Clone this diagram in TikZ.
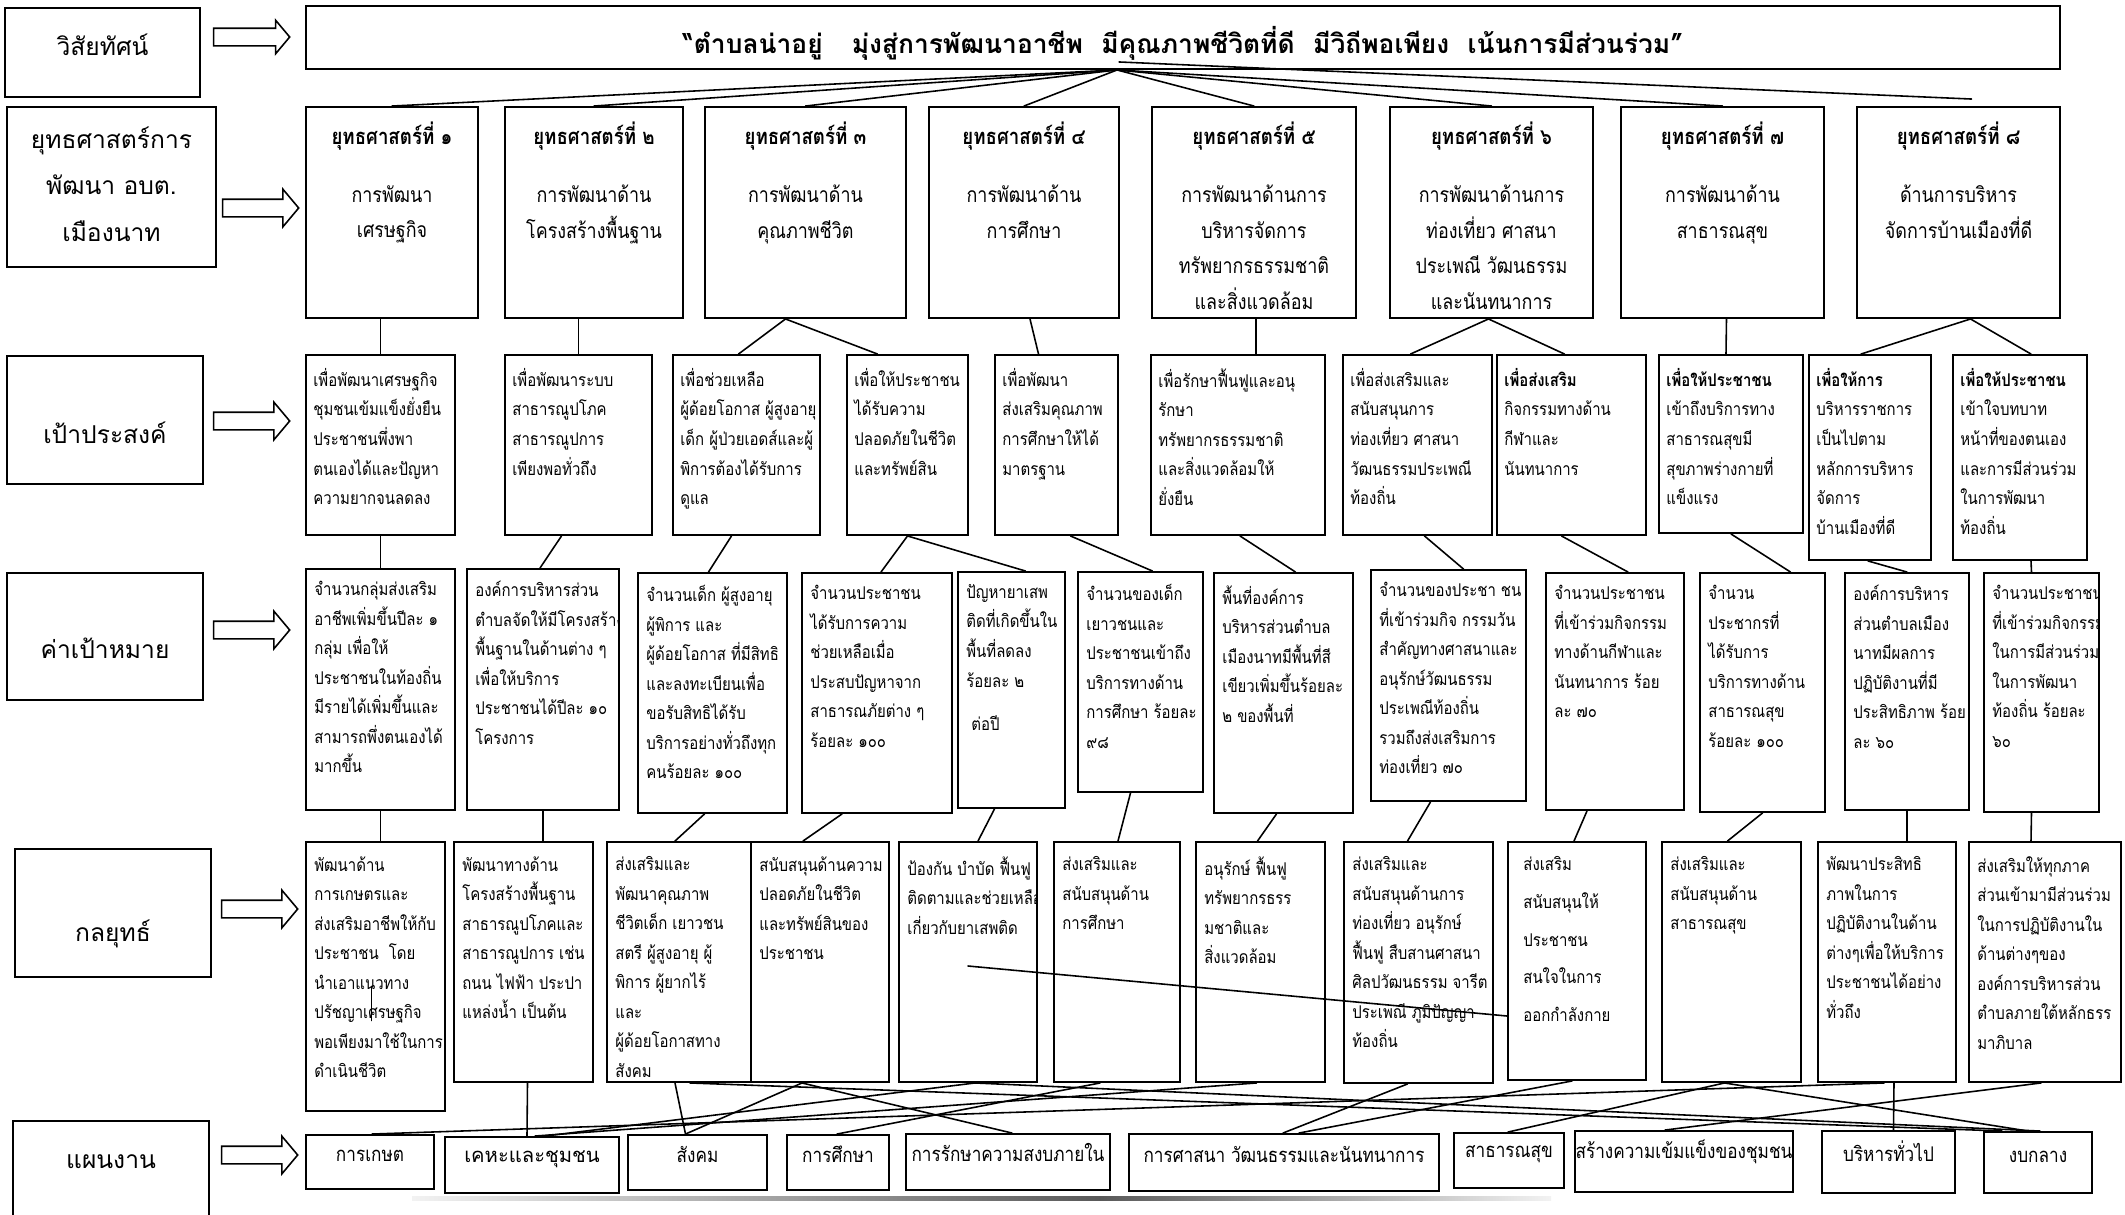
\documentclass[tikz,border=0pt]{standalone}
\usepackage{fontspec}
\setmainfont[Script=Thai]{Loma}
\newfontfamily\thainarrow[Script=Thai,FakeStretch=0.85]{Loma}
\usetikzlibrary{calc,fit,shapes.arrows}
\tikzset{
  box/.style={draw=black, line width=1.1pt, inner sep=0pt},
  link/.style={draw=black, line width=0.9pt, line cap=round},
  celltxt/.style={font=\thainarrow\fontsize{10}{16.8}\selectfont, align=left, inner sep=0pt, anchor=north west},
  stitle/.style={font=\thainarrow\bfseries\fontsize{12.5}{14}\selectfont, inner sep=0pt},
  sbody/.style={font=\thainarrow\fontsize{12}{20.2}\selectfont, align=center, inner sep=0pt, anchor=north},
  sidelab/.style={font=\fontsize{14}{26.5}\selectfont, align=center, inner sep=0pt},
  plan/.style={box, font=\thainarrow\fontsize{11.5}{13}\selectfont},
  bigarrow/.style={single arrow, draw=black, line width=0.9pt, fill=white, minimum height=15.2mm,
    inner sep=1.6mm, single arrow head extend=2mm, single arrow tip angle=100},
}
\begin{document}
\begin{tikzpicture}[x=0.2mm, y=-0.2mm]
\useasboundingbox (0,0) rectangle (2125,1215);

% left column
\foreach \nm/\xa/\ya/\xb/\yb/\dy/\txt in {
  Lvis/5/8/200/97/-8/วิสัยทัศน์,
  Lstr/7/107/216/267/-3/{ยุทธศาสตร์การ\\พัฒนา อบต.\\เมืองนาท},
  Lobj/7/356/203/484/13/เป้าประสงค์,
  Lind/7/573/203/700/12/ค่าเป้าหมาย,
  Ltac/15/849/211/977/21/กลยุทธ์}
{
  \node[box, fit={(\xa,\ya) (\xb,\yb)}] (\nm) {};
  \node[sidelab] at ($(\nm.center)+(0,\dy)$) {\txt};
}
\node[box, fit={(13,1121) (209,1260)}] (Lplan) {};
\node[sidelab] at ($(Lplan.north)+(0,42)$) {แผนงาน};

\node[bigarrow, single arrow head extend=1.6mm] (A0) at (248,37) {};
\node[bigarrow] (A1) at (257,208) {};
\node[bigarrow] (A2) at (248,421) {};
\node[bigarrow] (A3) at (248,630) {};
\node[bigarrow] (A4) at (256,909) {};
\node[bigarrow] (A5) at (256,1155) {};

% vision
\node[box, fit={(306,6) (2060,69)}] (V) {};
\node[font=\bfseries\fontsize{15}{17}\selectfont] (Vt) at ($(V.center)+(0,6)$)
  {“ตำบลน่าอยู่\hspace{1.1em}มุ่งสู่การพัฒนาอาชีพ\hspace{0.7em}มีคุณภาพชีวิตที่ดี\hspace{0.7em}มีวิถีพอเพียง\hspace{0.7em}เน้นการมีส่วนร่วม”};

% strategies
\foreach \nm/\xa/\xb/\num/\txt in {
  S1/306/478/๑/{การพัฒนา\\เศรษฐกิจ},
  S2/505/683/๒/{การพัฒนาด้าน\\โครงสร้างพื้นฐาน},
  S3/705/906/๓/{การพัฒนาด้าน\\คุณภาพชีวิต},
  S4/929/1119/๔/{การพัฒนาด้าน\\การศึกษา},
  S5/1152/1356/๕/{การพัฒนาด้านการ\\บริหารจัดการ\\ทรัพยากรธรรมชาติ\\และสิ่งแวดล้อม},
  S6/1390/1593/๖/{การพัฒนาด้านการ\\ท่องเที่ยว ศาสนา\\ประเพณี วัฒนธรรม\\และนันทนาการ},
  S7/1621/1824/๗/{การพัฒนาด้าน\\สาธารณสุข},
  S8/1857/2060/๘/{ด้านการบริหาร\\จัดการบ้านเมืองที่ดี}}
{
  \node[box, fit={(\xa,107) (\xb,318)}] (\nm) {};
  \node[stitle] at ($(\nm.north)+(0,30)$) {ยุทธศาสตร์ที่ \num};
  \node[sbody] at ($(\nm.north)+(0,79)$) {\txt};
}

% objectives
\foreach \nm/\xa/\xb/\yb/\fw/\txt in {
  O1/306/455/535/\relax/{เพื่อพัฒนาเศรษฐกิจ\\ชุมชนเข้มแข็งยั่งยืน\\ประชาชนพึ่งพา\\ตนเองได้และปัญหา\\ความยากจนลดลง},
  O2/505/652/535/\relax/{เพื่อพัฒนาระบบ\\สาธารณูปโภค\\สาธารณูปการ\\เพียงพอทั่วถึง},
  O3/673/820/535/\relax/{เพื่อช่วยเหลือ\\ผู้ด้อยโอกาส ผู้สูงอายุ\\เด็ก ผู้ป่วยเอดส์และผู้\\พิการต้องได้รับการ\\ดูแล},
  O4/847/968/535/\relax/{เพื่อให้ประชาชน\\ได้รับความ\\ปลอดภัยในชีวิต\\และทรัพย์สิน},
  O5/995/1118/535/\relax/{เพื่อพัฒนา\\ส่งเสริมคุณภาพ\\การศึกษาให้ได้\\มาตรฐาน},
  O6/1151/1325/535/\relax/{เพื่อรักษาฟื้นฟูและอนุ\\รักษา\\ทรัพยากรธรรมชาติ\\และสิ่งแวดล้อมให้\\ยั่งยืน},
  O7/1343/1492/535/\relax/{เพื่อส่งเสริมและ\\สนับสนุนการ\\ท่องเที่ยว ศาสนา\\วัฒนธรรมประเพณี\\ท้องถิ่น},
  O8/1497/1646/535/\bfseries/{เพื่อส่งเสริม\\กิจกรรมทางด้าน\\กีฬาและ\\นันทนาการ},
  O9/1659/1803/533/\bfseries/{เพื่อให้ประชาชน\\เข้าถึงบริการทาง\\สาธารณสุขมี\\สุขภาพร่างกายที่\\แข็งแรง},
  O10/1809/1931/560/\bfseries/{เพื่อให้การ\\บริหารราชการ\\เป็นไปตาม\\หลักการบริหาร\\จัดการ\\บ้านเมืองที่ดี},
  O11/1953/2087/560/\bfseries/{เพื่อให้ประชาชน\\เข้าใจบทบาท\\หน้าที่ของตนเอง\\และการมีส่วนร่วม\\ในการพัฒนา\\ท้องถิ่น}}
{
  \node[box, fit={(\xa,355) (\xb,\yb)}] (\nm) {};
  \begin{scope}
    \clip (\xa,355) rectangle (\xb,\yb);
    \node[celltxt] at ($(\nm.north west)+(8,14)$) {\fw\txt};
  \end{scope}
}

% targets
\foreach \nm/\xa/\ya/\xb/\yb/\txt in {
  I1/306/569/455/810/{จำนวนกลุ่มส่งเสริม\\อาชีพเพิ่มขึ้นปีละ ๑\\กลุ่ม เพื่อให้\\ประชาชนในท้องถิ่น\\มีรายได้เพิ่มขึ้นและ\\สามารถพึ่งตนเองได้\\มากขึ้น},
  I2/467/569/619/810/{องค์การบริหารส่วน\\ตำบลจัดให้มีโครงสร้าง\\พื้นฐานในด้านต่าง ๆ\\เพื่อให้บริการ\\ประชาชนได้ปีละ ๑๐\\โครงการ},
  I3/638/573/787/813/{จำนวนเด็ก ผู้สูงอายุ\\ผู้พิการ และ\\ผู้ด้อยโอกาส ที่มีสิทธิ\\และลงทะเบียนเพื่อ\\ขอรับสิทธิได้รับ\\บริการอย่างทั่วถึงทุก\\คนร้อยละ ๑๐๐},
  I4/802/573/952/813/{จำนวนประชาชน\\ได้รับการความ\\ช่วยเหลือเมื่อ\\ประสบปัญหาจาก\\สาธารณภัยต่าง ๆ\\ร้อยละ ๑๐๐},
  I5/958/572/1065/808/{ปัญหายาเสพ\\ติดที่เกิดขึ้นใน\\พื้นที่ลดลง\\ร้อยละ ๒\\[8pt]\ ต่อปี},
  I6/1078/572/1203/792/{จำนวนของเด็ก\\เยาวชนและ\\ประชาชนเข้าถึง\\บริการทางด้าน\\การศึกษา ร้อยละ\\๙๘},
  I7/1214/573/1353/813/{พื้นที่องค์การ\\บริหารส่วนตำบล\\เมืองนาทมีพื้นที่สี\\เขียวเพิ่มขึ้นร้อยละ\\๒ ของพื้นที่},
  I8/1371/570/1526/801/{จำนวนของประชา ชน\\ที่เข้าร่วมกิจ กรรมวัน\\สำคัญทางศาสนาและ\\อนุรักษ์วัฒนธรรม\\ประเพณีท้องถิ่น\\รวมถึงส่งเสริมการ\\ท่องเที่ยว ๗๐},
  I9/1546/573/1684/810/{จำนวนประชาชน\\ที่เข้าร่วมกิจกรรม\\ทางด้านกีฬาและ\\นันทนาการ ร้อย\\ละ ๗๐},
  I10/1700/573/1825/812/{จำนวน\\ประชากรที่\\ได้รับการ\\บริการทางด้าน\\สาธารณสุข\\ร้อยละ ๑๐๐},
  I11/1845/573/1969/810/{องค์การบริหาร\\ส่วนตำบลเมือง\\นาทมีผลการ\\ปฏิบัติงานที่มี\\ประสิทธิภาพ ร้อย\\ละ ๖๐},
  I12/1984/573/2099/812/{จำนวนประชาชน\\ที่เข้าร่วมกิจกรรม\\ในการมีส่วนร่วม\\ในการพัฒนา\\ท้องถิ่น ร้อยละ\\๖๐}}
{
  \node[box, fit={(\xa,\ya) (\xb,\yb)}] (\nm) {};
  \begin{scope}
    \clip (\xa,\ya) rectangle (\xb,\yb);
    \node[celltxt] at ($(\nm.north west)+(9,13)$) {\txt};
  \end{scope}
}

% tactics
\foreach \nm/\xa/\xb/\yb/\txt in {
  G1/306/445/1111/{พัฒนาด้าน\\การเกษตรและ\\ส่งเสริมอาชีพให้กับ\\ประชาชน\ \ โดย\\นำเอาแนวทาง\\ปรัชญาเศรษฐกิจ\\พอเพียงมาใช้ในการ\\ดำเนินชีวิต},
  G2/454/593/1082/{พัฒนาทางด้าน\\โครงสร้างพื้นฐาน\\สาธารณูปโภคและ\\สาธารณูปการ เช่น\\ถนน ไฟฟ้า ประปา\\แหล่งน้ำ เป็นต้น},
  G3/607/751/1082/{ส่งเสริมและ\\พัฒนาคุณภาพ\\ชีวิตเด็ก เยาวชน\\สตรี ผู้สูงอายุ ผู้\\พิการ ผู้ยากไร้\\และ\\ผู้ด้อยโอกาสทาง\\สังคม},
  G4/751/889/1082/{สนับสนุนด้านความ\\ปลอดภัยในชีวิต\\และทรัพย์สินของ\\ประชาชน},
  G5/899/1037/1082/{ป้องกัน บำบัด ฟื้นฟู\\ติดตามและช่วยเหลือ\\เกี่ยวกับยาเสพติด},
  G6/1054/1180/1082/{ส่งเสริมและ\\สนับสนุนด้าน\\การศึกษา},
  G7/1196/1325/1082/{อนุรักษ์ ฟื้นฟู\\ทรัพยากรธรร\\มชาติและ\\สิ่งแวดล้อม},
  G8/1344/1493/1083/{ส่งเสริมและ\\สนับสนุนด้านการ\\ท่องเที่ยว อนุรักษ์\\ฟื้นฟู สืบสานศาสนา\\ศิลปวัฒนธรรม จารีต\\ประเพณี ภูมิปัญญา\\ท้องถิ่น},
  G10/1662/1801/1082/{ส่งเสริมและ\\สนับสนุนด้าน\\สาธารณสุข},
  G11/1818/1956/1082/{พัฒนาประสิทธิ\\ภาพในการ\\ปฏิบัติงานในด้าน\\ต่างๆเพื่อให้บริการ\\ประชาชนได้อย่าง\\ทั่วถึง},
  G12/1969/2121/1082/{ส่งเสริมให้ทุกภาค\\ส่วนเข้ามามีส่วนร่วม\\ในการปฏิบัติงานใน\\ด้านต่างๆของ\\องค์การบริหารส่วน\\ตำบลภายใต้หลักธรร\\มาภิบาล}}
{
  \node[box, fit={(\xa,842) (\xb,\yb)}] (\nm) {};
  \begin{scope}
    \clip (\xa,842) rectangle (\xb,\yb);
    \node[celltxt] at ($(\nm.north west)+(9,15)$) {\txt};
  \end{scope}
}
\node[box, fit={(1508,842) (1646,1080)}] (G9) {};
\node[celltxt, font=\thainarrow\fontsize{10}{21.5}\selectfont] at ($(G9.north west)+(16,15)$)
  {ส่งเสริม\\สนับสนุนให้\\ประชาชน\\สนใจในการ\\ออกกำลังกาย};

% plans
\foreach \nm/\xa/\ya/\xb/\yb/\txt in {
  P1/306/1135/434/1189/การเกษต,
  P3/628/1135/767/1190/สังคม,
  P4/787/1135/889/1190/การศึกษา,
  P5/906/1134/1110/1190/การรักษาความสงบภายใน,
  P6/1129/1134/1439/1191/{การศาสนา วัฒนธรรมและนันทนาการ},
  P7/1454/1133/1564/1188/สาธารณสุข,
  P8/1575/1131/1793/1192/สร้างความเข้มแข็งของชุมชน,
  P9/1822/1131/1955/1193/บริหารทั่วไป,
  P10/1984/1132/2092/1193/งบกลาง}
{
  \node[plan, fit={(\xa,\ya) (\xb,\yb)}] (\nm) {\txt};
}
\node[plan, font=\fontsize{11.5}{14}\selectfont, fit={(445,1137) (619,1193)}] (P2) {เคหะและชุมชน};
\shade[left color=gray!10, right color=gray!70!black] (412,1196) rectangle (1100,1200);
\shade[left color=gray!70!black, right color=gray!10] (1100,1196) rectangle (1551,1200);

% vision to strategies
\coordinate (hub) at ($(V.south west)+(812,0)$);
\foreach \s in {S1,S2,S3,S4,S5,S6,S7}
  \draw[link] (hub) -- (\s.north);
\draw[link] ($(V.south west)+(814,-8)$) -- ($(S8.north)+(13,-7)$);

% strategies to objectives
\draw[link] (O1.north) -- (O1.north |- S1.south);
\draw[link] (O2.north) -- (O2.north |- S2.south);
\draw[link] ($(S3.south)+(-20,0)$) -- ($(O3.north)+(-8,0)$);
\draw[link] ($(S3.south)+(-20,0)$) -- ($(O4.north)+(-30,0)$);
\draw[link] ($(S4.south)+(6,0)$) -- ($(O5.north)+(-18,0)$);
\draw[link] ($(S5.south)+(2,0)$) -- ($(O6.north)+(18,0)$);
\draw[link] ($(S6.south)+(-3,0)$) -- ($(O7.north)+(-7,0)$);
\draw[link] ($(S6.south)+(-3,0)$) -- ($(O8.north)+(-7,0)$);
\draw[link] ($(S7.south)+(4,0)$) -- ($(O9.north)+(-5,0)$);
\draw[link] ($(S8.south)+(12,0)$) -- ($(O10.north)+(-9,0)$);
\draw[link] ($(S8.south)+(12,0)$) -- ($(O11.north)+(11,0)$);

% objectives to targets
\draw[link] (I1.north) -- (I1.north |- O1.south);
\draw[link] ($(O2.south)+(-17,0)$) -- ($(I2.north)+(-3,0)$);
\draw[link] ($(O3.south)+(-15,0)$) -- ($(I3.north)+(-4,0)$);
\draw[link] (O4.south) -- ($(I4.north)+(4,0)$);
\draw[link] (O4.south) -- ($(I5.north)+(14,0)$);
\draw[link] ($(O5.south)+(14,0)$) -- ($(I6.north)+(12,0)$);
\draw[link] ($(O6.south)+(2,0)$) -- ($(I7.north)+(12,0)$);
\draw[link] ($(O7.south)+(7,0)$) -- ($(I8.north)+(15,0)$);
\draw[link] ($(O8.south)+(-10,0)$) -- ($(I9.north)+(13,0)$);
\draw[link] (O9.south) -- ($(I10.north)+(28,0)$);
\draw[link] ($(O10.south)+(-2,0)$) -- (I11.north);
\draw[link] ($(O11.south)+(11,0)$) -- ($(I12.north)+(-10,0)$);

% targets to tactics
\draw[link] (I1.south) -- (I1.south |- G1.north);
\draw[link] (I2.south) -- (I2.south |- G2.north);
\draw[link] ($(I3.south)+(-8,0)$) -- ($(G3.north)+(-4,0)$);
\draw[link] ($(I4.south)+(-35,0)$) -- ($(G4.north)+(-17,0)$);
\draw[link] ($(I5.south)+(-17,0)$) -- ($(G5.north)+(10,0)$);
\draw[link] ($(I6.south)+(-10,0)$) -- ($(G6.north)+(1,0)$);
\draw[link] ($(I7.south)+(-7,0)$) -- ($(G7.north)+(-3,0)$);
\draw[link] ($(I8.south)+(-18,0)$) -- ($(G8.north)+(-11,0)$);
\draw[link] ($(I9.south)+(-28,0)$) -- ($(G9.north)+(-3,0)$);
\draw[link] (I10.south) -- ($(G10.north)+(-4,0)$);
\draw[link] (I11.south) -- (I11.south |- G11.north);
\draw[link] ($(I12.south)+(-10,0)$) -- ($(G12.north)+(-14,0)$);

% tactics to plans
\draw[link] ($(G2.south)+(4,0)$) -- ($(P2.north)+(-5,0)$);
\draw[link] ($(G3.south)+(-4,0)$) -- ($(P3.north)+(-12,0)$);
\draw[link] ($(G4.south)+(-18,0)$) -- ($(P3.north)+(-12,0)$);
\draw[link] ($(G4.south)+(-18,0)$) -- ($(P5.north)+(4,0)$);
\draw[link] ($(G6.south)+(-17,0)$) -- ($(P4.north)+(-1,0)$);
\draw[link] ($(G5.south)+(7,0)$) -- ($(P2.north)+(13,0)$);
\draw[link] ($(G7.south)+(-4,0)$) -- ($(P2.north)+(3,0)$);
\draw[link] ($(G11.south)+(-3,0)$) -- ($(P1.north)+(2,0)$);
\draw[link] ($(G3.south)+(11,0)$) -- ($(P10.north)+(-36,0)$);
\draw[link] ($(G5.south)+(7,0)$) -- ($(P10.north)+(2,0)$);
\draw[link] ($(G8.south)+(-11,0)$) -- ($(P6.north)+(-1,0)$);
\draw[link] ($(G9.south)+(-5,0)$) -- ($(P6.north)+(15,0)$);
\draw[link] ($(G10.south)+(-7,0)$) -- ($(P7.north)+(-1,0)$);
\draw[link] ($(G10.south)+(-7,0)$) -- ($(P10.north)+(-10,0)$);
\draw[link] ($(G11.south)+(7,0)$) -- ($(P9.north)+(5,0)$);
\draw[link] ($(G12.south)+(-4,0)$) -- ($(P8.north)+(-19,0)$);

% stray strokes
\draw[link] ($(G5.center)+(0,4)$) -- ($(G9.west)+(0,55)$);
\draw[link] ($(G1.center)+(-4,10)$) -- ($(G1.center)+(-4,44)$);
\end{tikzpicture}
\end{document}
